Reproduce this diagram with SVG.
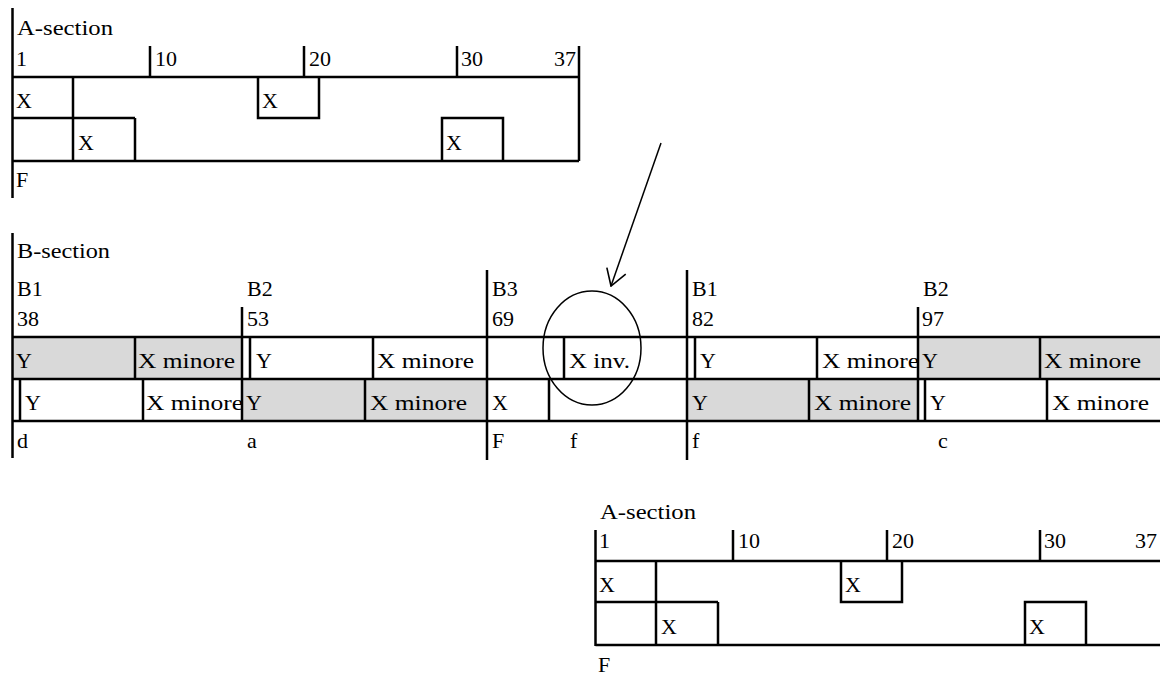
<svg xmlns="http://www.w3.org/2000/svg" width="1160" height="677" viewBox="0 0 1160 677">
<defs>
<style>
.ln{stroke:#000;stroke-width:2.5;fill:none}
.thin{stroke:#000;stroke-width:1.5;fill:none}
.t{font-family:"Liberation Serif","Times New Roman",serif;font-size:22px;fill:#000}
.gray{fill:#d9d9d9}
</style>
<marker id="open" viewBox="0 0 18 22" refX="17" refY="11" markerWidth="18" markerHeight="22" markerUnits="userSpaceOnUse" orient="auto">
<path d="M1,1 L17,11 L1,21" fill="none" stroke="#000" stroke-width="1.6"/>
</marker>
</defs>
<rect width="1160" height="677" fill="#fff"/>

<g id="a-section-top">
<path class="ln" d="M12.5 8 V198 M12.5 77 H579 M12.5 161 H579 M579 46 V161 M150 46 V77 M304 46 V77 M457 46 V77 M73 77 V161 M12.5 118 H135 M135 118 V161 M258 77 V118 H319 V77 M442 161 V118 H503 V161"/>
<text class="t" x="17" y="35" textLength="96" lengthAdjust="spacingAndGlyphs">A-section</text>
<text class="t" x="16" y="66">1</text>
<text class="t" x="155" y="66">10</text>
<text class="t" x="309" y="66">20</text>
<text class="t" x="461" y="66">30</text>
<text class="t" x="576" y="66" text-anchor="end">37</text>
<text class="t" x="16" y="108">X</text>
<text class="t" x="262" y="108">X</text>
<text class="t" x="78" y="150">X</text>
<text class="t" x="446" y="150">X</text>
<text class="t" x="16" y="187">F</text>
</g>

<g id="b-section">
<rect class="gray" x="12.5" y="337" width="229.5" height="42"/>
<rect class="gray" x="918" y="337" width="242" height="42"/>
<rect class="gray" x="242" y="379" width="245" height="42"/>
<rect class="gray" x="687" y="379" width="231" height="42"/>
<path class="ln" d="M12.5 233 V458 M12.5 337 H1160 M12.5 379 H1160 M12.5 421 H1160 M242 307 V421 M487 270 V460 M687 270 V460 M918 307 V421 M135 337 V379 M250 337 V379 M373 337 V379 M564 337 V379 M695 337 V379 M817 337 V379 M1040 337 V379 M20 379 V421 M143 379 V421 M365 379 V421 M549 379 V421 M809 379 V421 M925 379 V421 M1047 379 V421"/>
<text class="t" x="17" y="258" textLength="93" lengthAdjust="spacingAndGlyphs">B-section</text>
<text class="t" x="17" y="296">B1</text>
<text class="t" x="17" y="326">38</text>
<text class="t" x="247" y="296">B2</text>
<text class="t" x="247" y="326">53</text>
<text class="t" x="492" y="296">B3</text>
<text class="t" x="492" y="326">69</text>
<text class="t" x="692" y="296">B1</text>
<text class="t" x="692" y="326">82</text>
<text class="t" x="923" y="296">B2</text>
<text class="t" x="922" y="326">97</text>
<text class="t" x="16" y="368">Y</text>
<text class="t" x="138" y="368" textLength="97" lengthAdjust="spacingAndGlyphs">X minore</text>
<text class="t" x="256" y="368">Y</text>
<text class="t" x="377" y="368" textLength="97" lengthAdjust="spacingAndGlyphs">X minore</text>
<text class="t" x="569" y="368" textLength="61" lengthAdjust="spacingAndGlyphs">X inv.</text>
<text class="t" x="700" y="368">Y</text>
<text class="t" x="822" y="368" textLength="97" lengthAdjust="spacingAndGlyphs">X minore</text>
<text class="t" x="922" y="368">Y</text>
<text class="t" x="1044" y="368" textLength="97" lengthAdjust="spacingAndGlyphs">X minore</text>
<text class="t" x="25" y="410">Y</text>
<text class="t" x="146" y="410" textLength="97" lengthAdjust="spacingAndGlyphs">X minore</text>
<text class="t" x="246" y="410">Y</text>
<text class="t" x="370" y="410" textLength="97" lengthAdjust="spacingAndGlyphs">X minore</text>
<text class="t" x="492" y="410">X</text>
<text class="t" x="692" y="410">Y</text>
<text class="t" x="814" y="410" textLength="97" lengthAdjust="spacingAndGlyphs">X minore</text>
<text class="t" x="930" y="410">Y</text>
<text class="t" x="1052" y="410" textLength="97" lengthAdjust="spacingAndGlyphs">X minore</text>
<text class="t" x="17" y="448">d</text>
<text class="t" x="247" y="448">a</text>
<text class="t" x="492" y="448">F</text>
<text class="t" x="570" y="448">f</text>
<text class="t" x="692" y="448">f</text>
<text class="t" x="938" y="448">c</text>
</g>

<g id="a-section-bottom" transform="translate(583,484)">
<path class="ln" d="M12.5 46 V162 M12.5 77 H579 M12.5 161 H579 M579 46 V161 M150 46 V77 M304 46 V77 M457 46 V77 M73 77 V161 M12.5 118 H135 M135 118 V161 M258 77 V118 H319 V77 M442 161 V118 H503 V161"/>
<text class="t" x="17" y="35" textLength="96" lengthAdjust="spacingAndGlyphs">A-section</text>
<text class="t" x="16" y="64">1</text>
<text class="t" x="155" y="64">10</text>
<text class="t" x="309" y="64">20</text>
<text class="t" x="461" y="64">30</text>
<text class="t" x="574" y="64" text-anchor="end">37</text>
<text class="t" x="16" y="108">X</text>
<text class="t" x="262" y="108">X</text>
<text class="t" x="78" y="150">X</text>
<text class="t" x="446" y="150">X</text>
<text class="t" x="15" y="188">F</text>
</g>

<g id="highlight">
<ellipse class="thin" cx="592" cy="348" rx="49" ry="57"/>
</g>

<g id="connectors">
<path class="thin" d="M661 143 L611 286" marker-end="url(#open)"/>
</g>
</svg>
